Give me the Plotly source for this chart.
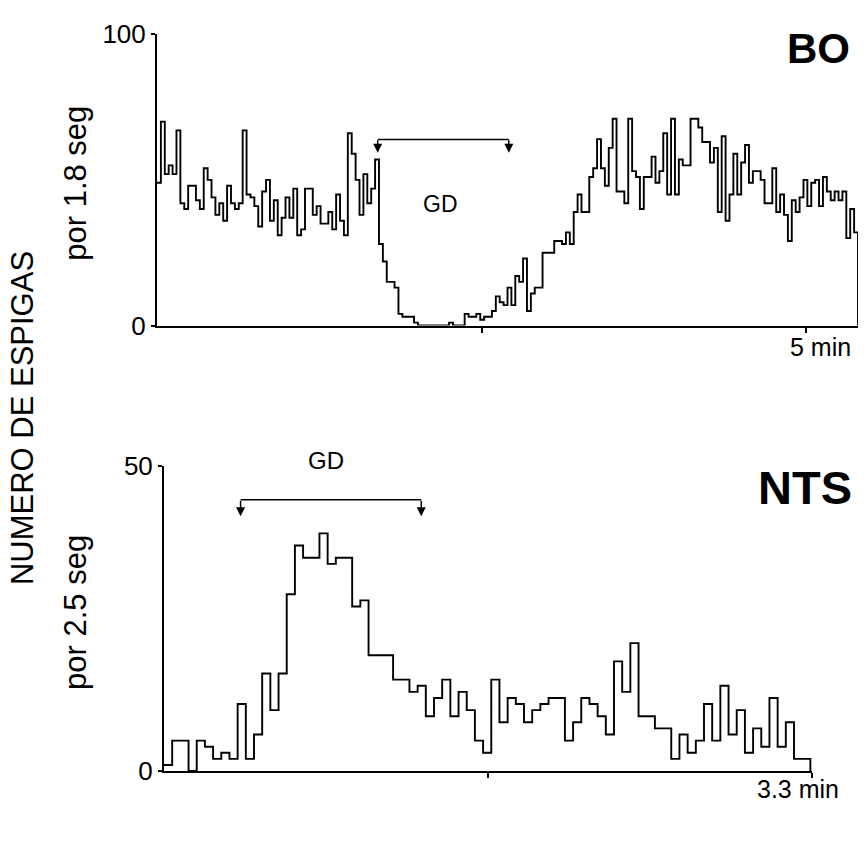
import plotly.graph_objects as go

# ---------------- data ----------------
# Top panel (BO): spikes per 1.8 s bin
top_counts = [
    49, 70, 52, 55, 52, 67, 42, 40, 48, 48,
    43, 40, 54, 50, 44, 38, 42, 36, 48, 42,
    40, 42, 67, 45, 44, 41, 34, 46, 50, 36,
    43, 31, 37, 44, 37, 47, 31, 33, 47, 47,
    38, 41, 35, 35, 39, 33, 45, 36, 31, 66,
    59, 50, 38, 52, 42, 47, 57, 28, 22, 15,
    15, 13, 4, 3, 3, 3, 1, 0, 0, 0,
    0, 0, 0, 0, 0, 1, 0, 0, 0, 4,
    3, 3, 4, 2, 3, 3, 5, 10, 8, 7,
    13, 7, 17, 15, 23, 5, 11, 13, 13, 25,
    25, 25, 29, 29, 28, 32, 28, 39, 45, 39,
    39, 51, 54, 64, 54, 48, 61, 71, 46, 46,
    42, 71, 53, 51, 40, 51, 51, 58, 49, 53,
    66, 45, 71, 45, 57, 55, 55, 71, 71, 68,
    63, 63, 56, 61, 39, 65, 36, 45, 59, 45,
    56, 62, 49, 53, 53, 50, 42, 42, 54, 39,
    45, 38, 29, 43, 39, 44, 50, 41, 49, 50,
    41, 51, 46, 43, 46, 43, 46, 30, 40, 32,
]
top_bin_sec = 1.8

# Bottom panel (NTS): spikes per 2.5 s bin
bot_counts = [
    1, 5, 5, 0, 5, 4, 2, 3, 2, 11,
    2, 6, 16, 10, 16, 29, 37, 35, 35, 39,
    34, 35, 35, 27, 28, 19, 19, 19, 15, 15,
    13, 14, 9, 12, 15, 9, 13, 10, 5, 3,
    15, 8, 12, 11, 8, 10, 11, 12, 12, 5,
    8, 12, 11, 9, 6, 18, 13, 21, 9, 9,
    7, 7, 2, 6, 3, 5, 11, 5, 14, 6,
    10, 3, 7, 4, 12, 4, 8, 2, 2,
]
bot_bin_sec = 2.5

# axis ticks / labels
top_y_ticks = [0, 100]
top_x_ticks = [2.5, 5.0]
top_x_label = "5 min"
top_x_max = 5.4
bot_y_ticks = [0, 50]
bot_x_ticks = [1.65, 3.3]
bot_x_label = "3.3 min"
bot_x_max = 3.3

# GD (stimulus) periods, minutes
gd_top = [1.70, 2.71]
gd_bot = [0.39, 1.31]

# ---------------- build ----------------
def step_xy(counts, bin_sec):
    w = bin_sec / 60.0
    n = len(counts)
    xs = [i * w for i in range(n)] + [n * w, n * w]
    ys = list(counts) + [counts[-1], 0]
    return xs, ys

W, H = 868, 842
FONT = "Liberation Sans"
LINE = dict(color="black", width=1.9)

tx, ty = step_xy(top_counts, top_bin_sec)
bx, by = step_xy(bot_counts, bot_bin_sec)

fig = go.Figure()
fig.add_trace(go.Scatter(x=tx, y=ty, mode="lines", line=dict(shape="hv", **LINE),
                         xaxis="x", yaxis="y", showlegend=False, hoverinfo="skip",
                         cliponaxis=False))
fig.add_trace(go.Scatter(x=bx, y=by, mode="lines", line=dict(shape="hv", **LINE),
                         xaxis="x2", yaxis="y2", showlegend=False, hoverinfo="skip",
                         cliponaxis=False))

def px_x(p):
    return p / W

def px_y(p):
    return 1 - p / H

axis_common = dict(showgrid=False, zeroline=False, showline=True, linecolor="black",
                   linewidth=2, ticks="outside", tickcolor="black", tickwidth=1.5,
                   tickfont=dict(family=FONT, size=26, color="black"))

fig.update_layout(
    width=W, height=H, autosize=False,
    margin=dict(l=0, r=0, t=0, b=0),
    paper_bgcolor="white", plot_bgcolor="white",
    xaxis=dict(domain=[px_x(157), px_x(858)], range=[0, top_x_max], anchor="y",
               tickvals=top_x_ticks, ticktext=["", ""], ticklen=5, **axis_common),
    yaxis=dict(domain=[px_y(322), px_y(20)], range=[0, 100], anchor="x",
               tickvals=top_y_ticks, ticktext=[str(v) for v in top_y_ticks], ticklen=4,
               **axis_common),
    xaxis2=dict(domain=[px_x(164), px_x(812)], range=[0, bot_x_max], anchor="y2",
                tickvals=bot_x_ticks, ticktext=["", ""], ticklen=5, **axis_common),
    yaxis2=dict(domain=[px_y(784), px_y(468)], range=[0, 50], anchor="x2",
                tickvals=bot_y_ticks, ticktext=[str(v) for v in bot_y_ticks], ticklen=4,
                **axis_common),
)

ann = []
txt = dict(family=FONT, color="black")
C = dict(xanchor="center", yanchor="middle", showarrow=False)
ann.append(dict(x=top_x_ticks[1], y=0, xref="x", yref="y", text=top_x_label, showarrow=False,
                xanchor="center", yanchor="top", xshift=14, yshift=-5,
                font=dict(size=25, **txt)))
ann.append(dict(x=bot_x_ticks[1], y=0, xref="x2", yref="y2", text=bot_x_label, showarrow=False,
                xanchor="center", yanchor="top", xshift=-14, yshift=-2,
                font=dict(size=25, **txt)))
# GD labels
ann.append(dict(x=2.18, y=41.7, xref="x", yref="y", text="GD", font=dict(size=23, **txt), **C))
ann.append(dict(x=0.825, y=49.5, xref="x2", yref="y2", text="GD", yshift=9,
                font=dict(size=24, **txt), **C))
# bracket arrows
for xv in gd_top:
    ann.append(dict(x=xv, y=59.3, xref="x", yref="y", ax=0, ay=-14, text="",
                    showarrow=True, arrowhead=2, arrowsize=1.2, arrowwidth=1.5,
                    arrowcolor="black"))
for xv in gd_bot:
    ann.append(dict(x=xv, y=41.8, xref="x2", yref="y2", ax=0, ay=-17, text="",
                    showarrow=True, arrowhead=2, arrowsize=1.2, arrowwidth=1.5,
                    arrowcolor="black"))
# panel names
ann.append(dict(x=px_x(818), y=px_y(35), xref="paper", yref="paper", text="<b>BO</b>",
                font=dict(size=42, **txt), **C))
ann.append(dict(x=px_x(805), y=px_y(490), xref="paper", yref="paper", text="<b>NTS</b>",
                font=dict(size=47, **txt), **C))
# y titles
ann.append(dict(x=px_x(76), y=px_y(175), xref="paper", yref="paper", text="por 1.8 seg",
                textangle=-90, font=dict(size=31, **txt), **C))
ann.append(dict(x=px_x(76), y=px_y(620), xref="paper", yref="paper", text="por 2.5 seg",
                textangle=-90, font=dict(size=31, **txt), **C))
ann.append(dict(x=px_x(22), y=px_y(418), xref="paper", yref="paper", text="NUMERO DE ESPIGAS",
                textangle=-90, font=dict(size=31, **txt), **C))
fig.update_layout(annotations=ann)

# bracket horizontal bars
fig.add_shape(type="line", xref="x", yref="y", x0=gd_top[0], x1=gd_top[1], y0=63.9, y1=63.9,
              line=dict(color="black", width=1.5))
fig.add_shape(type="line", xref="x2", yref="y2", x0=gd_bot[0], x1=gd_bot[1], y0=44.5, y1=44.5,
              line=dict(color="black", width=1.5))

fig.write_html("out.html")
